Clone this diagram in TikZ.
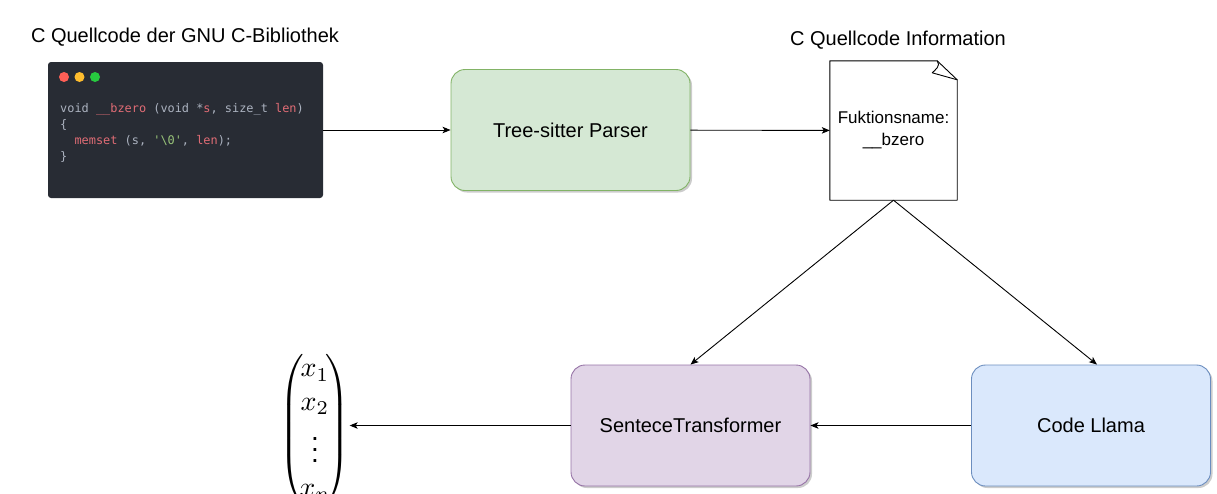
\documentclass[tikz,border=0pt]{standalone}
\usepackage{amsmath}
\usepackage{fontspec}
\setmainfont{Liberation Sans}
\newfontfamily\codefont{DejaVu Sans Mono}
\usetikzlibrary{arrows.meta, shadows}

\definecolor{codebg}{RGB}{40,44,52}
\definecolor{codegray}{RGB}{171,178,191}
\definecolor{codered}{RGB}{224,108,117}
\definecolor{codegreen}{RGB}{152,195,121}
\definecolor{dotred}{RGB}{255,95,86}
\definecolor{dotyellow}{RGB}{255,189,46}
\definecolor{dotgreen}{RGB}{39,201,63}
\definecolor{greenfill}{HTML}{D5E8D4}
\definecolor{greenline}{HTML}{82B366}
\definecolor{purplefill}{HTML}{E1D5E7}
\definecolor{purpleline}{HTML}{9673A6}
\definecolor{bluefill}{HTML}{DAE8FC}
\definecolor{blueline}{HTML}{6C8EBF}

\begin{document}
\begin{tikzpicture}[x = 1pt, y = -1pt]
\tikzstyle{BoxStyle}=[shape = rectangle,
                      rounded corners = 14pt,
                      draw, line width = 0.9pt,
                      minimum width = 239pt,
                      minimum height = 121pt,
                      font = \fontsize{20}{24}\selectfont,
                      drop shadow = {shadow xshift = 2pt, shadow yshift = -2pt,
                                     opacity = 0.2, fill = black}]
\tikzstyle{TitleStyle}=[font = \fontsize{20}{24}\selectfont]
\tikzstyle{DotStyle}=[shape = circle, minimum size = 10pt, inner sep = 0pt]
\tikzstyle{post}=[-{Stealth[length = 8pt, width = 6.5pt, inset = 2pt]}, line width = 0.9pt]
\clip (0,0) rectangle (1217,493);
\node[TitleStyle] (t0) at (185,37) {C Quellcode der GNU C-Bibliothek};
\node[fill = codebg, rounded corners = 3pt, minimum width = 275pt, minimum height = 136pt] (code) at (185.5,130) {};
\node[DotStyle, fill = dotred] (d0) at (64,77) {};
\node[DotStyle, fill = dotyellow] (d1) at (79.5,77) {};
\node[DotStyle, fill = dotgreen] (d2) at (95,77) {};
\node[anchor = west, align = left, text = codegray, inner sep = 0pt,
      font = \codefont\fontsize{11.9}{16}\selectfont] (src) at (60,132.5)
  {void \textcolor{codered}{\_\_bzero} (void *\textcolor{codered}{s}, size\_t \textcolor{codered}{len})\\
   \{\\
   \hspace*{1.204em}\textcolor{codered}{memset} (s, \textcolor{codegreen}{\textquotesingle\textbackslash 0\textquotesingle}, \textcolor{codered}{len});\\
   \}};
\node[BoxStyle, fill = greenfill, draw = greenline] (parser) at (570.5,130) {Tree-sitter Parser};
\node[TitleStyle] (t1) at (898,40) {C Quellcode Information};
\node[minimum width = 127pt, minimum height = 139pt] (info) at (893.5,130.5) {};
\filldraw[fill = white, line width = 0.9pt, line join = round] (info.south west) -- (info.north west)
  -- ([xshift = -20pt]info.north east) -- ([yshift = -19pt]info.north east) -- (info.south east) -- cycle;
\draw[line width = 0.9pt, line join = round] ([xshift = -20pt]info.north east)
  .. controls ([xshift = -16pt, yshift = -5pt]info.north east) and ([xshift = -22pt, yshift = -9pt]info.north east)
  .. ([xshift = -25pt, yshift = -12pt]info.north east) -- ([yshift = -19pt]info.north east);
\node[align = center, font = \fontsize{17}{22}\selectfont] (infotext) at (info) {Fuktionsname:\\\_\_bzero};
\node[BoxStyle, fill = purplefill, draw = purpleline] (senti) at (690.5,425.5) {SenteceTransformer};
\node[BoxStyle, fill = bluefill, draw = blueline] (llama) at (1091,425.5) {Code Llama};
\node[inner sep = -1pt] (vec) at (315,430)
  {\scalebox{2.8}{$\left(\!\begin{matrix} x_1\\ x_2\\ \vdots\\ x_n \end{matrix}\!\right)$}};
\draw[post] (code) -- (parser);
\draw[post] (parser) -- (info);
\draw[post] (info.south) -- (senti.north);
\draw[post] (info.south) -- ([xshift = 6pt]llama.north);
\draw[post] (llama) -- (senti);
\draw[post] (senti.west) -- (senti.west -| vec.east);
\end{tikzpicture}
\end{document}
